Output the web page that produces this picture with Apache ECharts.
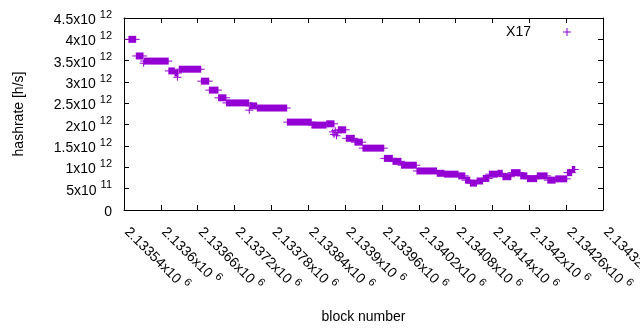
<!DOCTYPE html>
<html><head><meta charset="utf-8">
<script src="https://cdn.jsdelivr.net/npm/echarts@6/dist/echarts.min.js"></script>
<style>html,body{margin:0;padding:0;background:#fff}#c{width:640px;height:330px}</style>
</head><body><div id="c"></div>
<script>
const seriesName = 'X17';
// runs of consecutive blocks sharing one hashrate reading (start block, end block, value)
const runStart = [2133548,2133560,2133572,2133573,2133613,2133623,2133627,2133630,2133666,2133679,2133694,2133707,2133744,2133745,2133757,2133806,2133846,2133870,2133880,2133882,2133884,2133886,2133888,2133889,2133902,2133916,2133929,2133964,2133978,2133992,2134017,2134050,2134062,2134085,2134096,2134104,2134115,2134125,2134135,2134149,2134157,2134171,2134186,2134197,2134213,2134230,2134243,2134262,2134270];
const runEnd   = [2133559,2133571,2133572,2133612,2133622,2133628,2133627,2133665,2133678,2133693,2133706,2133743,2133744,2133756,2133805,2133845,2133869,2133882,2133880,2133882,2133884,2133886,2133888,2133901,2133915,2133928,2133963,2133977,2133991,2134016,2134049,2134061,2134084,2134095,2134103,2134114,2134124,2134134,2134148,2134156,2134170,2134185,2134196,2134212,2134229,2134242,2134261,2134269,2134274];
const hashrate = [4.00e12,3.61e12,3.44e12,3.49e12,3.26e12,3.21e12,3.11e12,3.30e12,3.02e12,2.81e12,2.63e12,2.51e12,2.34e12,2.44e12,2.39e12,2.06e12,1.99e12,2.02e12,1.83e12,1.77e12,1.86e12,1.74e12,1.81e12,1.88e12,1.68e12,1.59e12,1.45e12,1.21e12,1.14e12,1.05e12,0.915e12,0.86e12,0.84e12,0.80e12,0.70e12,0.63e12,0.68e12,0.74e12,0.84e12,0.86e12,0.78e12,0.875e12,0.80e12,0.735e12,0.80e12,0.70e12,0.73e12,0.875e12,0.95e12];

const xTickMantissa = ['2.13354x10','2.1336x10','2.13366x10','2.13372x10','2.13378x10','2.13384x10','2.1339x10','2.13396x10','2.13402x10','2.13408x10','2.13414x10','2.1342x10','2.13426x10','2.13432x10'];
const xTickExp = '6';
const yTickMantissa = ['0','5x10','1x10','1.5x10','2x10','2.5x10','3x10','3.5x10','4x10','4.5x10'];
const yTickExp = ['','11','12','12','12','12','12','12','12','12'];

const COLOR = '#9400d3';
const FONT = 'Liberation Sans';
const chart = echarts.init(document.getElementById('c'), null, {renderer:'canvas'});

const data = runStart.map((s,i)=>[s, runEnd[i], hashrate[i]]);
const rich = {
  m:{fontSize:14,fontFamily:FONT,color:'#000',lineHeight:18,verticalAlign:'bottom'},
  e:{fontSize:11,fontFamily:FONT,color:'#000',lineHeight:11,verticalAlign:'top',padding:[0,0,0,4]}
};
const tickCommon = {show:true,inside:true,length:5,lineStyle:{color:'#000',width:1}};
const lineCommon = {show:true,onZero:false,lineStyle:{color:'#000',width:1}};

chart.setOption({
  animation:false,
  backgroundColor:'#fff',
  grid:{left:124,right:37,top:18,bottom:120,outerBoundsMode:'none',containLabel:false},
  legend:{
    show:true,right:64,top:20,align:'right',itemWidth:8,itemHeight:8,
    data:[{name:seriesName,icon:'path://M0,3.5H8V4.5H0Z M3.5,0H4.5V8H3.5Z'}],
    textStyle:{fontSize:14,fontFamily:FONT,color:'#000',padding:[0,27,0,0]}
  },
  xAxis:[{
    type:'value',position:'bottom',min:2133540,max:2134320,interval:60,
    axisLine:lineCommon,axisTick:tickCommon,splitLine:{show:false},
    axisLabel:{rotate:-45,margin:14,padding:[0,0,0,6],showMinLabel:true,showMaxLabel:true,hideOverlap:false,
      formatter:(v,i)=>'{m|'+xTickMantissa[i]+'}{e|'+xTickExp+'}',rich:rich},
    name:'block number',nameLocation:'middle',nameGap:100,
    nameTextStyle:{fontSize:14,fontFamily:FONT,color:'#000'}
  },{
    type:'value',position:'top',min:2133540,max:2134320,interval:60,
    axisLine:lineCommon,axisTick:tickCommon,splitLine:{show:false},axisLabel:{show:false}
  }],
  yAxis:[{
    type:'value',position:'left',min:0,max:4.5e12,interval:5e11,
    axisLine:lineCommon,axisTick:tickCommon,splitLine:{show:false},
    axisLabel:{margin:12,showMinLabel:true,showMaxLabel:true,
      formatter:(v,i)=> yTickExp[i] ? '{m|'+yTickMantissa[i]+'}{e|'+yTickExp[i]+'}' : '{m|'+yTickMantissa[i]+'}',rich:rich},
    name:'hashrate [h/s]',nameLocation:'middle',nameGap:98,nameRotate:90,
    nameTextStyle:{fontSize:14,fontFamily:FONT,color:'#000'}
  },{
    type:'value',position:'right',min:0,max:4.5e12,interval:5e11,
    axisLine:lineCommon,axisTick:tickCommon,splitLine:{show:false},axisLabel:{show:false}
  }],
  series:[{
    type:'custom',name:seriesName,
    itemStyle:{color:COLOR},
    encode:{x:[0,1],y:2},
    data:data,
    renderItem:function(params, api){
      const s = api.coord([api.value(0), api.value(2)]);
      const e = api.coord([api.value(1), api.value(2)]);
      const h = 3.5;
      return {type:'group',children:[
        {type:'rect',shape:{x:s[0]-0.5,y:s[1]-h,width:e[0]-s[0]+1,height:2*h},style:{fill:COLOR}},
        {type:'line',shape:{x1:s[0]-h-0.5,y1:s[1],x2:e[0]+h+0.5,y2:s[1]},style:{stroke:COLOR,lineWidth:1}}
      ]};
    }
  }]
});
</script></body></html>
